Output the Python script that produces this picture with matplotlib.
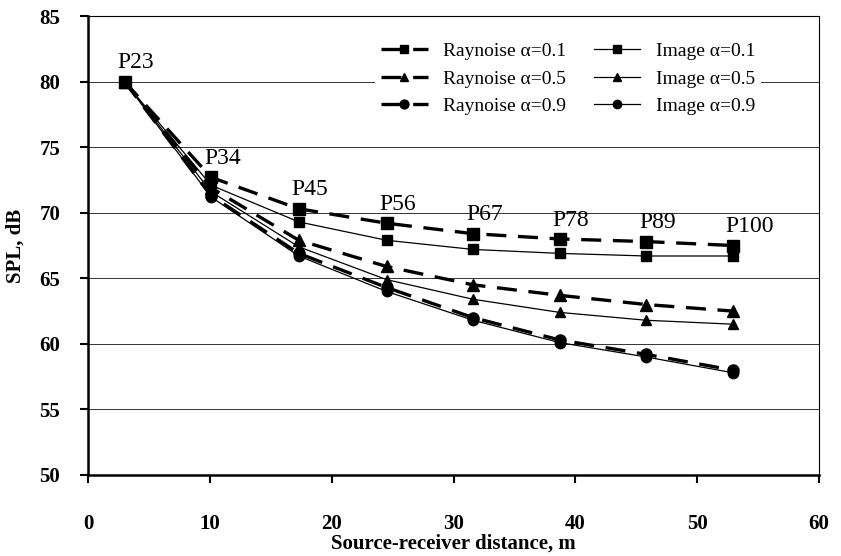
import matplotlib
matplotlib.use("Agg")
import matplotlib.pyplot as plt

# source-receiver distance (m) for each receiver position
distance = [3.0, 10.1, 17.3, 24.5, 31.6, 38.7, 45.8, 52.9]
point_labels = ["P23", "P34", "P45", "P56", "P67", "P78", "P89", "P100"]

# SPL (dB)
ray_01 = [80.0, 72.7, 70.3, 69.2, 68.4, 68.0, 67.8, 67.5]
ray_05 = [80.0, 71.9, 67.9, 65.9, 64.5, 63.7, 63.0, 62.5]
ray_09 = [80.0, 71.3, 66.9, 64.3, 62.0, 60.3, 59.2, 58.0]
img_01 = [80.0, 72.1, 69.3, 67.9, 67.2, 66.9, 66.7, 66.7]
img_05 = [80.0, 71.6, 67.4, 64.9, 63.4, 62.4, 61.8, 61.5]
img_09 = [80.0, 71.2, 66.7, 64.0, 61.8, 60.1, 59.0, 57.8]

plt.rcParams['font.family'] = ['Liberation Serif', 'DejaVu Serif']

fig = plt.figure(figsize=(8.41, 5.56), dpi=100)
ax = fig.add_axes([0.1046, 0.1457, 0.8694, 0.8255])

dash = dict(color='black', linestyle=(0, (6, 3.5)), linewidth=2.4, markersize=8)
solid = dict(color='black', linestyle='-', linewidth=0.9, markersize=7.5)

h1, = ax.plot(distance, ray_01, marker='s', label='Raynoise \u03b1=0.1', **dash)
h2, = ax.plot(distance, ray_05, marker='^', label='Raynoise \u03b1=0.5', **dash)
h3, = ax.plot(distance, ray_09, marker='o', label='Raynoise \u03b1=0.9', **dash)
h4, = ax.plot(distance, img_01, marker='s', label='Image \u03b1=0.1', **solid)
h5, = ax.plot(distance, img_05, marker='^', label='Image \u03b1=0.5', **solid)
h6, = ax.plot(distance, img_09, marker='o', label='Image \u03b1=0.9', **solid)

# position labels above the top (Raynoise 0.1) curve
for x, y, lab in zip(distance, ray_01, point_labels):
    ax.annotate(lab, (x, y), xytext=(-5, 6), textcoords='offset points',
                ha='left', va='bottom', fontsize=17)

ax.set_xlim(0, 60)
ax.set_ylim(50, 85)
ax.set_xticks(range(0, 61, 10))
ax.set_yticks(range(50, 86, 5))
ax.yaxis.grid(True, color='black', linewidth=0.7, alpha=0.8)
ax.set_axisbelow(True)

for s in ['left', 'bottom']:
    ax.spines[s].set_linewidth(1.8)
for s in ['top', 'right']:
    ax.spines[s].set_linewidth(0.8)

ax.tick_params(axis='both', direction='out', length=6, width=1.5, labelsize=15)
ax.tick_params(axis='x', pad=22)
ax.tick_params(axis='y', pad=14)
for t in ax.get_xticklabels() + ax.get_yticklabels():
    t.set_fontweight('bold')

ax.set_xlabel('Source-receiver distance, m', fontsize=15, fontweight='bold', labelpad=0)
ax.set_ylabel('SPL, dB', fontsize=15, fontweight='bold', labelpad=10)

leg = ax.legend(handles=[h1, h2, h3, h4, h5, h6], ncol=2, loc='upper right',
                bbox_to_anchor=(0.934, 0.976), fontsize=14, frameon=True,
                handlelength=2.4, columnspacing=1.4, labelspacing=0.5,
                handletextpad=0.8, borderpad=0.3, markerscale=0.8)
leg.get_frame().set_edgecolor('none')
leg.get_frame().set_facecolor('white')
leg.get_frame().set_alpha(1)

fig.savefig('out.png', dpi=100)
